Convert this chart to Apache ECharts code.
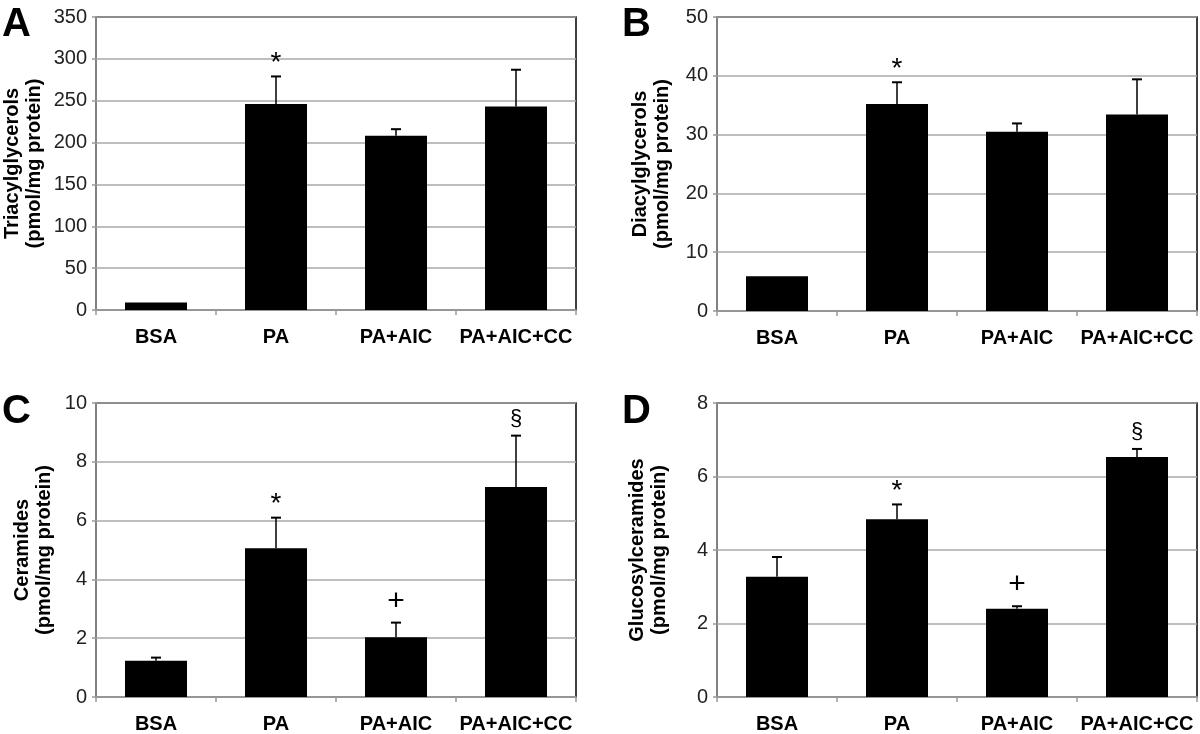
<!DOCTYPE html>
<html>
<head>
<meta charset="utf-8">
<script src="https://cdn.jsdelivr.net/npm/echarts@6/dist/echarts.min.js"></script>
<style>
html,body{margin:0;padding:0;background:#fff;}
#c{width:1200px;height:734px;}
</style>
</head>
<body>
<div id="c"></div>
<script>
const categories = ['BSA', 'PA', 'PA+AIC', 'PA+AIC+CC'];

const tagValues = [9, 246, 208, 243];
const tagErrors = [0, 33, 8, 44];
const tagNotes  = ['', '*', '', ''];

const dagValues = [5.9, 35.2, 30.5, 33.4];
const dagErrors = [0, 3.7, 1.4, 6.0];
const dagNotes  = ['', '*', '', ''];

const cerValues = [1.23, 5.06, 2.03, 7.14];
const cerErrors = [0.11, 1.04, 0.5, 1.75];
const cerNotes  = ['', '*', '+', '§'];

const gcValues = [3.27, 4.84, 2.40, 6.53];
const gcErrors = [0.54, 0.40, 0.07, 0.22];
const gcNotes  = ['', '*', '+', '§'];

const panelLetters = ['A', 'B', 'C', 'D'];
const yTitles = [
  'Triacylglycerols\n(pmol/mg protein)',
  'Diacylglycerols\n(pmol/mg protein)',
  'Ceramides\n(pmol/mg protein)',
  'Glucosylceramides\n(pmol/mg protein)'
];
const yMax = [350, 50, 10, 8];
const yInterval = [50, 10, 2, 2];

const panels = [
  {values: tagValues, errors: tagErrors, notes: tagNotes},
  {values: dagValues, errors: dagErrors, notes: dagNotes},
  {values: cerValues, errors: cerErrors, notes: cerNotes},
  {values: gcValues, errors: gcErrors, notes: gcNotes}
];

const FONT = '"Liberation Sans", Arial, Helvetica, sans-serif';
const gridPos = [
  {left: 96, top: 17, width: 480, height: 293},
  {left: 717, top: 17, width: 480, height: 294},
  {left: 96, top: 403, width: 480, height: 294},
  {left: 717, top: 403, width: 480, height: 294}
];
const nameGaps = [51, 44, 41, 47];
const letterPos = [[2, 5], [622, 5], [2, 392], [622, 392]];

const grids = [], xAxes = [], yAxes = [], series = [], graphics = [];
panels.forEach((p, i) => {
  grids.push(Object.assign({show: true, borderColor: '#000', borderWidth: 1.5, backgroundColor: 'transparent', containLabel: false}, gridPos[i]));
  xAxes.push({
    type: 'category', gridIndex: i, data: categories,
    axisLine: {show: true, lineStyle: {color: '#999', width: 1.5}},
    axisTick: {show: true, alignWithLabel: false, length: 5, lineStyle: {color: '#999', width: 1.5}},
    axisLabel: {fontFamily: FONT, fontWeight: 'bold', fontSize: 20, color: '#000', margin: 17, interval: 0},
    splitLine: {show: false}
  });
  yAxes.push({
    type: 'value', gridIndex: i, min: 0, max: yMax[i], interval: yInterval[i],
    name: yTitles[i], nameLocation: 'middle', nameGap: nameGaps[i], nameRotate: 90,
    nameTextStyle: {fontFamily: FONT, fontWeight: 'bold', fontSize: 20, color: '#000', lineHeight: 22, align: 'center'},
    axisLine: {show: true, lineStyle: {color: '#999', width: 1.5}},
    axisTick: {show: true, length: 4, lineStyle: {color: '#999', width: 1.5}},
    axisLabel: {fontFamily: FONT, fontSize: 20, color: '#222', margin: 9},
    splitLine: {show: true, lineStyle: {color: '#a8a8a8', width: 1.5}}
  });
  series.push({
    type: 'bar', xAxisIndex: i, yAxisIndex: i, data: p.values,
    barWidth: 62, itemStyle: {color: '#000'}, silent: true, animation: false
  });
  series.push({
    type: 'custom', xAxisIndex: i, yAxisIndex: i, z: 10, animation: false, silent: true,
    data: p.values.map((v, k) => [k, v, v + p.errors[k]]),
    renderItem: function (params, api) {
      const k = api.value(0);
      const base = api.coord([k, api.value(1)]);
      const top = api.coord([k, api.value(2)]);
      const children = [];
      if (api.value(2) > api.value(1)) {
        children.push({type: 'line', shape: {x1: base[0], y1: base[1], x2: top[0], y2: top[1]}, style: {stroke: '#000', lineWidth: 1.5}});
        children.push({type: 'line', shape: {x1: top[0] - 5, y1: top[1], x2: top[0] + 5, y2: top[1]}, style: {stroke: '#000', lineWidth: 2}});
      }
      const note = p.notes[params.dataIndex];
      if (note) {
        const isStar = note === '*';
        const isPlus = note === '+';
        children.push({type: 'text', x: top[0], y: top[1] + (isStar ? 1 : -6),
          style: {text: note, fontFamily: FONT, fontSize: isStar ? 28 : (isPlus ? 30 : 22), fill: '#000',
            align: 'center', verticalAlign: 'bottom'}});
      }
      return {type: 'group', children: children};
    }
  });
  graphics.push({type: 'text', left: letterPos[i][0], top: letterPos[i][1],
    style: {text: panelLetters[i], fontFamily: FONT, fontWeight: 'bold', fontSize: 40, fill: '#000'}});
});

const chart = echarts.init(document.getElementById('c'), null, {renderer: 'canvas'});
chart.setOption({
  animation: false,
  backgroundColor: '#fff',
  grid: grids, xAxis: xAxes, yAxis: yAxes, series: series, graphic: graphics
});
</script>
</body>
</html>
